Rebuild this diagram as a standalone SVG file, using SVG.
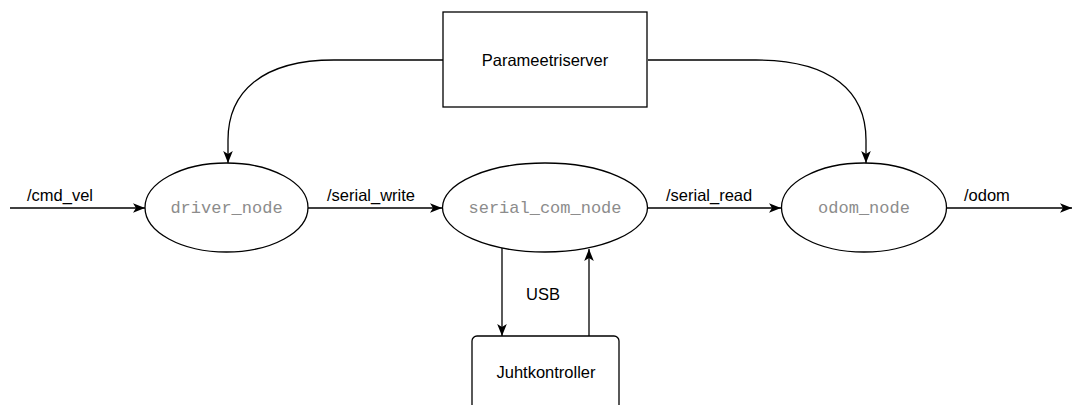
<svg xmlns="http://www.w3.org/2000/svg" width="1073" height="405" viewBox="0 0 1073 405">
<style>
.shape{fill:#fff;stroke:#000;stroke-width:1.3}
.edge{fill:none;stroke:#000;stroke-width:1.3}
.lbl{font-family:"Liberation Sans",Arial,sans-serif;font-size:16.5px;fill:#000}
.mono{font-family:"Liberation Mono","Courier New",monospace;font-size:17px;fill:#8c8c8c}
</style>
<defs>
<marker id="arr" viewBox="0 0 10 8" refX="10" refY="4" markerWidth="12" markerHeight="10" orient="auto" markerUnits="userSpaceOnUse">
<path d="M0,0 L10,4 L0,8 L2.5,4 Z" fill="#000"/>
</marker>
</defs>
<rect width="1073" height="405" fill="#fff"/>
<g id="connectors">
<path class="edge" d="M10,208 L145,208" marker-end="url(#arr)"/>
<path class="edge" d="M308,208 L442,208" marker-end="url(#arr)"/>
<path class="edge" d="M648,208 L781,208" marker-end="url(#arr)"/>
<path class="edge" d="M947,208 L1072,208" marker-end="url(#arr)"/>
<path class="edge" d="M443,60 L334,60 C262,60 228,92 228,140 L228,163" marker-end="url(#arr)"/>
<path class="edge" d="M648,60 L756,60 C832,60 866,92 866,140 L866,163" marker-end="url(#arr)"/>
<path class="edge" d="M502,248 L502,336" marker-end="url(#arr)"/>
<path class="edge" d="M589,336 L589,249" marker-end="url(#arr)"/>
<text class="lbl" x="27" y="201">/cmd_vel</text>
<text class="lbl" x="327" y="201">/serial_write</text>
<text class="lbl" x="666" y="201">/serial_read</text>
<text class="lbl" x="964" y="201">/odom</text>
<text class="lbl" x="543" y="300" text-anchor="middle">USB</text>
</g>
<g id="parameetriserver">
<rect class="shape" x="443" y="12" width="204" height="95"/>
<text class="lbl" x="545" y="66" text-anchor="middle">Parameetriserver</text>
</g>
<g id="driver_node">
<ellipse class="shape" cx="226.5" cy="207.5" rx="81.5" ry="44.5"/>
<text class="mono" x="226.5" y="213" text-anchor="middle">driver_node</text>
</g>
<g id="serial_com_node">
<ellipse class="shape" cx="545" cy="207.5" rx="102.5" ry="44.5"/>
<text class="mono" x="545" y="213" text-anchor="middle">serial_com_node</text>
</g>
<g id="odom_node">
<ellipse class="shape" cx="864" cy="207.5" rx="82.5" ry="44.5"/>
<text class="mono" x="864" y="213" text-anchor="middle">odom_node</text>
</g>
<g id="juhtkontroller">
<rect class="shape" x="472" y="336" width="147" height="90" rx="5" ry="5"/>
<text class="lbl" x="546" y="378" text-anchor="middle">Juhtkontroller</text>
</g>
</svg>
